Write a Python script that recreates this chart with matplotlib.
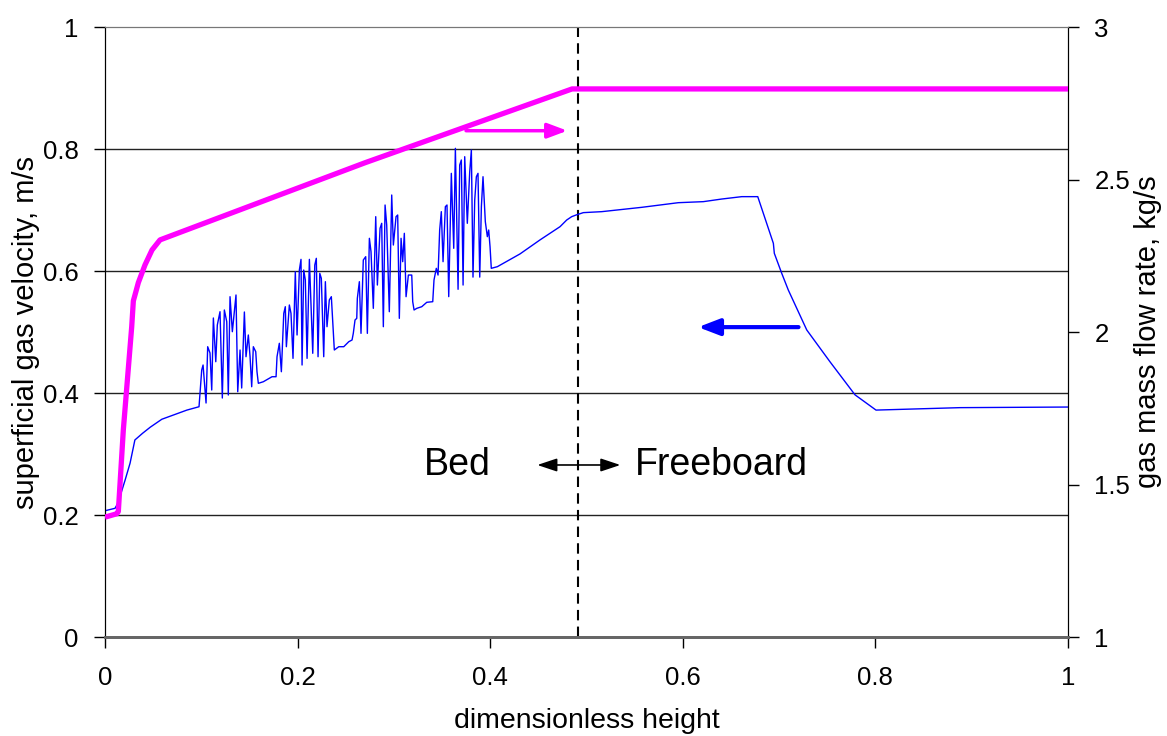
import numpy as np
import matplotlib
matplotlib.use("Agg")
import matplotlib.pyplot as plt
from matplotlib.ticker import FuncFormatter

plt.rcParams['font.family'] = ['Liberation Sans', 'DejaVu Sans']

# ---- superficial gas velocity (left axis) ----
inlet_x = [0.0, 0.0104, 0.0135, 0.0208, 0.026, 0.031, 0.039, 0.047, 0.059, 0.071, 0.085, 0.0976]
inlet_u = [0.207, 0.211, 0.220, 0.257, 0.285, 0.323, 0.334, 0.344, 0.357, 0.364, 0.372, 0.3775]

burst1_x = [0.1004, 0.1018, 0.1049, 0.1066, 0.1090, 0.1108, 0.1125, 0.1150, 0.1166, 0.1194,
            0.1218, 0.1239, 0.1264, 0.1280, 0.1298, 0.1322, 0.1343, 0.1360, 0.1378, 0.1402,
            0.1419, 0.1447, 0.1464, 0.1488, 0.1506, 0.1523, 0.1540, 0.1565, 0.1578, 0.1592,
            0.1644, 0.1734, 0.1776]
burst1_u = [0.4377, 0.4459, 0.3836, 0.4759, 0.4656, 0.4049, 0.5230, 0.4513, 0.5115, 0.5333,
            0.3918, 0.5361, 0.5169, 0.3967, 0.5579, 0.5005, 0.5333, 0.5607, 0.4021, 0.4705,
            0.4082, 0.5328, 0.4595, 0.4951, 0.4595, 0.4103, 0.4759, 0.4677, 0.4349, 0.4159,
            0.4185, 0.4267, 0.4267]

burst2_x = [0.1786, 0.1810, 0.1831, 0.1856, 0.1872, 0.1883, 0.1914, 0.1931, 0.1952, 0.1976,
            0.1994, 0.2018, 0.2035, 0.2046, 0.2063, 0.2080, 0.2098, 0.2122, 0.2139, 0.2157,
            0.2178, 0.2194, 0.2212, 0.2230, 0.2246, 0.2271, 0.2288, 0.2305, 0.2329, 0.2350,
            0.2375, 0.2381, 0.2427, 0.2479, 0.2531, 0.2565]
burst2_u = [0.4595, 0.4815, 0.4349, 0.5306, 0.5415, 0.4759, 0.5443, 0.5306, 0.4568, 0.5989,
            0.4951, 0.6016, 0.6191, 0.4459, 0.6016, 0.5852, 0.4568, 0.6191, 0.5443, 0.4651,
            0.6098, 0.6208, 0.4595, 0.5962, 0.5880, 0.4595, 0.5825, 0.5087, 0.5525, 0.5579,
            0.4869, 0.4705, 0.4759, 0.4759, 0.4841, 0.4869]

burst3_x = [0.2578, 0.2596, 0.2614, 0.2620, 0.2641, 0.2658, 0.2682, 0.2707, 0.2724, 0.2745,
            0.2762, 0.2786, 0.2811, 0.2828, 0.2856, 0.2873, 0.2890, 0.2908, 0.2925, 0.2952,
            0.2977, 0.2994, 0.3022, 0.3039, 0.3056, 0.3074, 0.3091, 0.3108, 0.3126, 0.3150,
            0.3185, 0.3195, 0.3209, 0.3237, 0.3289, 0.3341, 0.3403]
burst3_u = [0.4978, 0.5197, 0.5224, 0.5552, 0.5825, 0.4978, 0.6180, 0.6235, 0.4978, 0.6536,
            0.6317, 0.5388, 0.6891, 0.5770, 0.6700, 0.6782, 0.5087, 0.7082, 0.6754, 0.5333,
            0.7246, 0.6426, 0.6891, 0.6918, 0.5224, 0.6536, 0.6153, 0.6618, 0.5579, 0.5934,
            0.5934, 0.5497, 0.5361, 0.5388, 0.5415, 0.5487, 0.5497]

burst4_x = [0.3416, 0.3440, 0.3458, 0.3475, 0.3492, 0.3510, 0.3534, 0.3551, 0.3569, 0.3596,
            0.3621, 0.3638, 0.3666, 0.3683, 0.3700, 0.3718, 0.3735, 0.3762, 0.3787, 0.3804,
            0.3821, 0.3839, 0.3856, 0.3873, 0.3891, 0.3908, 0.3925, 0.3949, 0.3970, 0.3984,
            0.3998, 0.4011, 0.4047, 0.4074]
burst4_u = [0.5852, 0.6044, 0.5934, 0.6672, 0.6973, 0.6153, 0.7055, 0.7082, 0.5580, 0.7601,
            0.6372, 0.8011, 0.5700, 0.7738, 0.7820, 0.5770, 0.7874, 0.6782, 0.7628, 0.7984,
            0.5900, 0.7164, 0.7546, 0.7601, 0.5900, 0.7055, 0.7546, 0.6809, 0.6563, 0.6672,
            0.6398, 0.6044, 0.6060, 0.6071]

free_x = [0.4309, 0.4517, 0.4725, 0.4794, 0.4846, 0.4891, 0.4967, 0.5158, 0.5382, 0.5573,
          0.5763, 0.5953, 0.6213, 0.6404, 0.6612, 0.6778, 0.6940, 0.6950, 0.7027, 0.7095,
          0.7287, 0.7529, 0.7788, 0.8006, 0.8463, 0.8879, 1.0]
free_u = [0.628, 0.651, 0.6727, 0.6836, 0.6891, 0.6918, 0.6957, 0.6973, 0.7011, 0.7044,
          0.7082, 0.7120, 0.7137, 0.7180, 0.7219, 0.7219, 0.6454, 0.6290, 0.5962, 0.5689,
          0.5033, 0.451, 0.397, 0.372, 0.374, 0.376, 0.377]

# ---- gas mass flow rate (right axis) ----
flow_x = [0.0, 0.0121, 0.0138, 0.0190, 0.0277, 0.0294, 0.0322, 0.0346, 0.0415, 0.0488,
          0.0571, 0.27, 0.485, 1.0]
flow_m = [1.393, 1.404, 1.411, 1.679, 2.017, 2.102, 2.134, 2.162, 2.22, 2.269,
          2.302, 2.555, 2.797, 2.797]

bed_top = 0.491

vel_x = np.concatenate([inlet_x, burst1_x, burst2_x, burst3_x, burst4_x, free_x])
vel_u = np.concatenate([inlet_u, burst1_u, burst2_u, burst3_u, burst4_u, free_u])

fig = plt.figure(figsize=(11.67, 7.36), dpi=100)
ax1 = fig.add_axes([0.0900, 0.1345, 0.8252, 0.8288])
ax2 = ax1.twinx()

ax1.set_xlim(0, 1)
ax1.set_ylim(0, 1)
ax2.set_ylim(1, 3)

for g in [0.2, 0.4, 0.6, 0.8]:
    ax1.axhline(g, color='#222222', lw=1.0, zorder=1)

ax1.plot(vel_x, vel_u, color='#0000FF', lw=1.0, zorder=3)
ax2.plot(flow_x, flow_m, color='#FF00FF', lw=3.8, zorder=3, solid_capstyle='butt')

ax1.axvline(bed_top, color='black', lw=1.5, ls=(0, (5, 3)), zorder=2)

# arrows and annotations
ax1.annotate('', xy=(0.483, 0.83), xytext=(0.372, 0.83),
             arrowprops=dict(arrowstyle='-|>,head_length=1.2,head_width=0.45',
                             color='#FF00FF', lw=2.5))
ax1.annotate('', xy=(0.613, 0.508), xytext=(0.723, 0.508),
             arrowprops=dict(arrowstyle='-|>,head_length=1.3,head_width=0.5',
                             color='#0000FF', lw=3.0))
ax1.annotate('', xy=(0.446, 0.282), xytext=(0.538, 0.282),
             arrowprops=dict(arrowstyle='<|-|>,head_length=1.2,head_width=0.4',
                             color='black', lw=1.2))
ax1.text(0.366, 0.282, 'Bed', fontsize=27, ha='center', va='center')
ax1.text(0.550, 0.282, 'Freeboard', fontsize=27, ha='left', va='center')

fmt = FuncFormatter(lambda v, p: '%g' % v)
ax1.set_xticks([0, 0.2, 0.4, 0.6, 0.8, 1])
ax1.set_yticks([0, 0.2, 0.4, 0.6, 0.8, 1])
ax2.set_yticks([1, 1.5, 2, 2.5, 3])
ax1.xaxis.set_major_formatter(fmt)
ax1.yaxis.set_major_formatter(fmt)
ax2.yaxis.set_major_formatter(fmt)

ax1.tick_params(axis='x', direction='out', length=8, width=1, pad=13, labelsize=18.5)
ax1.tick_params(axis='y', direction='out', length=8, width=1, pad=11, labelsize=18.5)
ax2.tick_params(axis='y', direction='out', length=8, width=1, pad=11, labelsize=18.5)

ax1.set_xlabel('dimensionless height', fontsize=20.5)
ax1.set_ylabel('superficial gas velocity, m/s', fontsize=21)
ax2.set_ylabel('gas mass flow rate, kg/s', fontsize=21)
ax1.xaxis.set_label_coords(0.5, -0.117)
ax1.yaxis.set_label_coords(-0.068, 0.5)
ax2.yaxis.set_label_coords(1.069, 0.5)

for ax in (ax1, ax2):
    ax.spines['top'].set_color('#777777')
    ax.spines['bottom'].set_color('#666666')
    ax.spines['bottom'].set_linewidth(2.0)
    ax.spines['left'].set_color('black')
    ax.spines['right'].set_color('black')

fig.savefig('out.png', dpi=100)
